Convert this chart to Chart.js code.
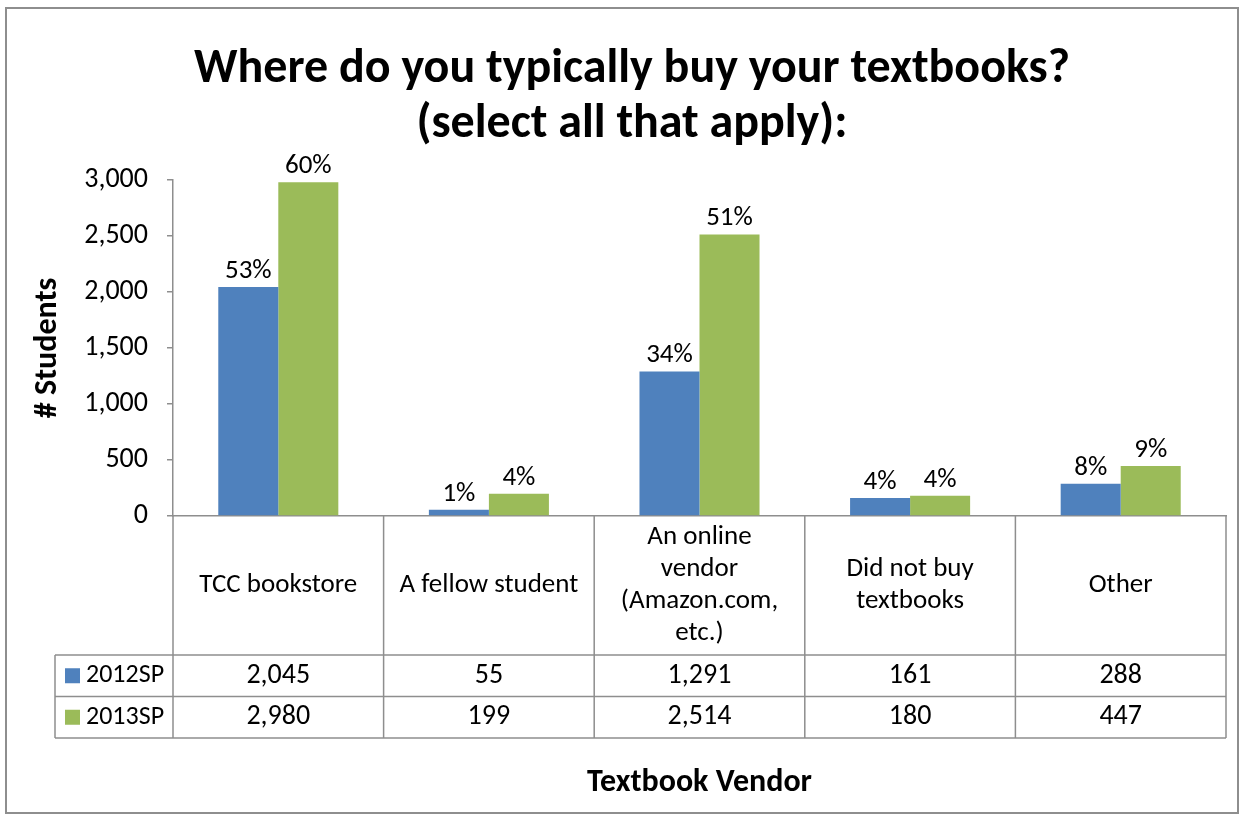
<!DOCTYPE html>
<html>
<head>
<meta charset="utf-8">
<script src="https://cdn.jsdelivr.net/npm/chart.js@4"></script>
<style>
  body { margin: 0; background: #fff; }
  #wrap { width: 1244px; height: 820px; }
</style>
</head>
<body>
<div id="wrap"><canvas id="vendorChart"></canvas></div>
<script>
const FONT = "Carlito, Lato, 'Open Sans', sans-serif";

const titleLines = ["Where do you typically buy your textbooks?", "(select all that apply):"];
// categories (each one split into the lines shown in the table)
const categories = [
  ["TCC bookstore"],
  ["A fellow student"],
  ["An online", "vendor", "(Amazon.com,", "etc.)"],
  ["Did not buy", "textbooks"],
  ["Other"],
];
const seriesNames = ["2012SP", "2013SP"];
const students2012 = [2045, 55, 1291, 161, 288];
const students2013 = [2980, 199, 2514, 180, 447];
const pct2012 = ["53%", "1%", "34%", "4%", "8%"];
const pct2013 = ["60%", "4%", "51%", "4%", "9%"];
const yTicks = [0, 500, 1000, 1500, 2000, 2500, 3000];

const BLUE = "#4F81BD";
const GREEN = "#9BBB59";
const LINE = "#8e8e8e";

// title, data table under the plot, bar labels, frame
const tablePlugin = {
  id: "dataTable",
  afterDraw(chart) {
    const ctx = chart.ctx;
    const xs = chart.scales.x;
    const area = chart.chartArea;
    const n = categories.length;
    const colW = (area.right - area.left) / n;
    const top = area.bottom;
    const catBottom = top + 139;
    const row1 = catBottom + 41.5;
    const row2 = row1 + 41.5;
    const legLeft = 55;

    ctx.save();
    // outer frame
    ctx.strokeStyle = LINE;
    ctx.lineWidth = 2;
    ctx.strokeRect(6, 8, 1232, 805);

    // chart title
    ctx.fillStyle = "#000";
    ctx.textAlign = "center";
    ctx.textBaseline = "middle";
    ctx.font = "bold 48px " + FONT;
    titleLines.forEach((t, k) => ctx.fillText(t, 632, 70 + k * 55));

    // table grid
    ctx.lineWidth = 1.5;
    ctx.beginPath();
    for (let i = 0; i <= n; i++) {
      const x = area.left + i * colW;
      ctx.moveTo(x, top);
      ctx.lineTo(x, row2);
    }
    ctx.moveTo(legLeft, catBottom); ctx.lineTo(area.right, catBottom);
    ctx.moveTo(legLeft, row1); ctx.lineTo(area.right, row1);
    ctx.moveTo(legLeft, row2); ctx.lineTo(area.right, row2);
    ctx.moveTo(legLeft, catBottom); ctx.lineTo(legLeft, row2);
    ctx.stroke();

    // category names
    ctx.font = "27px " + FONT;
    const lh = 32;
    categories.forEach((lines, i) => {
      const cx = xs.getPixelForValue(i);
      const cy = (top + catBottom) / 2;
      lines.forEach((t, k) => {
        ctx.fillText(t, cx, cy + (k - (lines.length - 1) / 2) * lh);
      });
    });

    // value rows
    const rows = [students2012, students2013];
    const rowMid = [(catBottom + row1) / 2, (row1 + row2) / 2];
    rows.forEach((vals, r) => {
      ctx.font = "28px " + FONT;
      vals.forEach((v, i) => {
        ctx.fillText(v.toLocaleString("en-US"), xs.getPixelForValue(i), rowMid[r]);
      });
      ctx.fillStyle = chart.data.datasets[r].backgroundColor;
      ctx.fillRect(65, rowMid[r] - 7.5, 15, 15);
      ctx.fillStyle = "#000";
      ctx.textAlign = "left";
      ctx.font = "26px " + FONT;
      ctx.fillText(seriesNames[r], 86, rowMid[r]);
      ctx.textAlign = "center";
    });

    // percentage labels above bars
    ctx.font = "27px " + FONT;
    ctx.textBaseline = "alphabetic";
    [pct2012, pct2013].forEach((labels, d) => {
      chart.getDatasetMeta(d).data.forEach((bar, i) => {
        ctx.fillText(labels[i], bar.x, bar.y - 9);
      });
    });
    ctx.restore();
  },
};

new Chart(document.getElementById("vendorChart"), {
  type: "bar",
  data: {
    labels: categories,
    datasets: [
      { label: seriesNames[0], data: students2012, backgroundColor: BLUE },
      { label: seriesNames[1], data: students2013, backgroundColor: GREEN },
    ],
  },
  options: {
    responsive: true,
    maintainAspectRatio: false,
    animation: false,
    datasets: {
      bar: { categoryPercentage: 0.57, barPercentage: 1.0 },
    },
    layout: { padding: { left: 7, right: 18, top: 180, bottom: 0 } },
    scales: {
      x: {
        ticks: { display: false },
        grid: { display: false },
        border: { display: true, color: LINE, width: 1.5 },
        title: {
          display: true,
          text: "Textbook Vendor",
          color: "#000",
          font: { family: FONT, size: 32, weight: "bold" },
          padding: { top: 0, bottom: 18 },
        },
        afterFit: (s) => { s.height = 304; },
      },
      y: {
        min: 0,
        max: 3000,
        afterBuildTicks: (s) => { s.ticks = yTicks.map((v) => ({ value: v })); },
        ticks: {
          color: "#000",
          padding: 19,
          font: { family: FONT, size: 28 },
        },
        grid: { drawOnChartArea: false, drawTicks: true, tickLength: 6, color: LINE, lineWidth: 1.5 },
        border: { display: true, color: LINE, width: 1.5 },
        title: {
          display: true,
          text: "# Students",
          color: "#000",
          font: { family: FONT, size: 32, weight: "bold" },
          padding: { top: 22, bottom: 0 },
        },
        afterFit: (s) => { s.width = 166; },
      },
    },
    plugins: {
      legend: { display: false },
      tooltip: { enabled: false },
      title: { display: false },
    },
  },
  plugins: [tablePlugin],
});
</script>
</body>
</html>
